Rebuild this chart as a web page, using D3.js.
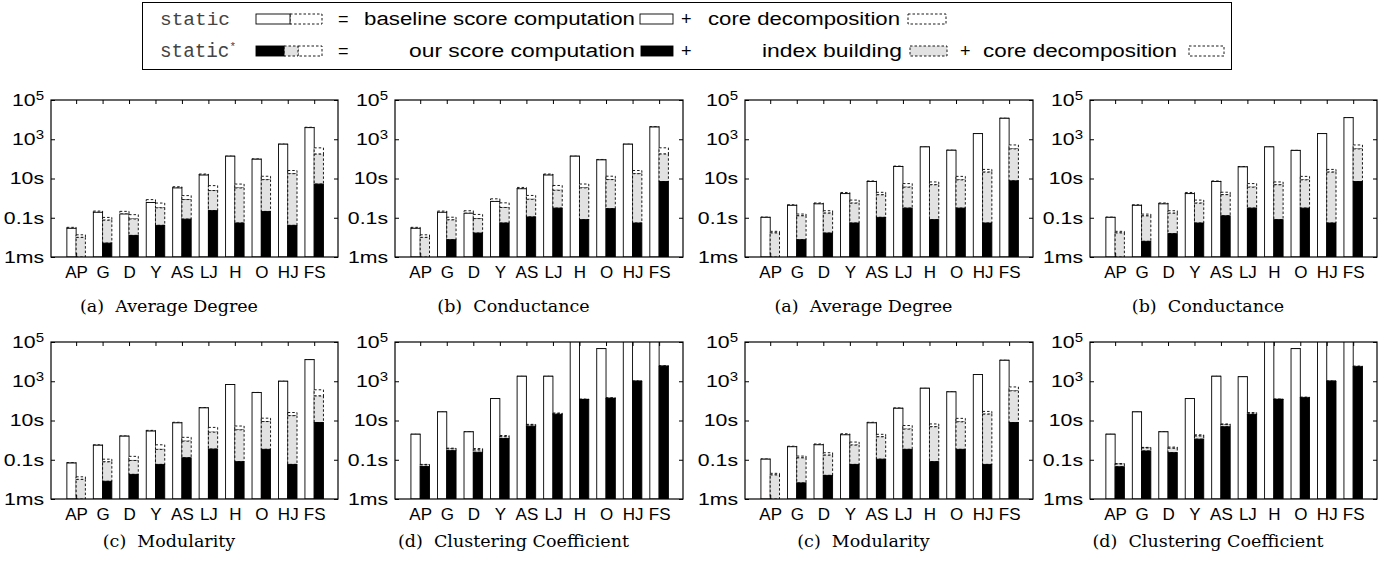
<!DOCTYPE html>
<html><head><meta charset="utf-8">
<script src="https://cdn.jsdelivr.net/npm/d3@7"></script>
<style>body{margin:0;background:#fff} svg{display:block}</style>
</head><body>
<svg id="chart" width="1397" height="561"></svg>
<script>
// ---------- data ----------
const categories = ["AP","G","D","Y","AS","LJ","H","O","HJ","FS"];
const yTickValues = [1e-3, 1e-1, 1e1, 1e3, 1e5];
const yTickLabels = ["1ms", "0.1s", "10s", "10^3", "10^5"];

// core decomposition time (s), shared by both bars of a dataset
const coreTime = [0.0035, 0.029, 0.057, 0.24, 0.5, 1.9, 1.9, 4.3, 8, 190];
// index building time (s)
const indexTimeLeft  = [0.0095, 0.07, 0.074, 0.28, 0.76, 2.2, 3.25, 8.5, 17.5, 169];
const indexTimeRight = [0.016, 0.118, 0.155, 0.5, 1.37, 3.3, 4.7, 8.2, 21, 315];

// baseline score computation (static) and our score computation (static*)
const avgDegreeBaseL = [0.029, 0.19, 0.155, 0.6, 3.3, 15, 137, 96, 560, 3900];
const avgDegreeOursL = [0.0005, 0.0051, 0.0126, 0.041, 0.085, 0.23, 0.054, 0.21, 0.041, 5.2];
const conductanceBaseL = [0.029, 0.19, 0.17, 0.68, 3.0, 15, 137, 89, 560, 4200];
const conductanceOursL = [0.0005, 0.0076, 0.0166, 0.054, 0.11, 0.31, 0.08, 0.29, 0.054, 7.0];
const modularityBaseL = [0.068, 0.55, 1.59, 2.9, 7.6, 44, 680, 265, 1000, 12600];
const modularityOursL = [0.0005, 0.008, 0.018, 0.058, 0.126, 0.35, 0.08, 0.34, 0.058, 7.9];
const clusteringBaseL = [2.0, 27.5, 2.65, 131, 1800, 1800, 300000, 46000, 300000, 300000];
const clusteringOursL = [0.045, 0.29, 0.24, 1.2, 5.1, 20, 117, 131, 1000, 5800];

const avgDegreeBaseR = [0.105, 0.43, 0.51, 1.7, 7.0, 41, 408, 275, 1940, 11700];
const avgDegreeOursR = [0.0008, 0.0076, 0.0166, 0.054, 0.105, 0.31, 0.08, 0.31, 0.054, 7.6];
const conductanceBaseR = [0.105, 0.43, 0.51, 1.7, 7.0, 39, 408, 270, 1940, 12600];
const conductanceOursR = [0.0008, 0.0063, 0.0154, 0.054, 0.126, 0.31, 0.08, 0.31, 0.054, 7.0];
const modularityBaseR = [0.107, 0.46, 0.58, 1.87, 7.6, 42, 440, 288, 2190, 11700];
const modularityOursR = [0.0008, 0.0066, 0.016, 0.058, 0.107, 0.34, 0.08, 0.34, 0.058, 7.9];
const clusteringBaseR = [2.0, 27.5, 2.65, 131, 1800, 1700, 300000, 46000, 300000, 300000];
const clusteringOursR = [0.044, 0.28, 0.23, 1.12, 4.8, 20, 117, 142, 1000, 5400];

const captions = ["(a)  Average Degree", "(b)  Conductance", "(a)  Average Degree", "(b)  Conductance",
                  "(c)  Modularity", "(d)  Clustering Coefficient", "(c)  Modularity", "(d)  Clustering Coefficient"];

const panels = [
  {base: avgDegreeBaseL, ours: avgDegreeOursL, index: indexTimeLeft},
  {base: conductanceBaseL, ours: conductanceOursL, index: indexTimeLeft},
  {base: avgDegreeBaseR, ours: avgDegreeOursR, index: indexTimeRight},
  {base: conductanceBaseR, ours: conductanceOursR, index: indexTimeRight},
  {base: modularityBaseL, ours: modularityOursL, index: indexTimeLeft},
  {base: clusteringBaseL, ours: clusteringOursL, index: indexTimeLeft},
  {base: modularityBaseR, ours: modularityOursR, index: indexTimeRight},
  {base: clusteringBaseR, ours: clusteringOursR, index: indexTimeRight}
];

// ---------- layout ----------
const svg = d3.select("#chart");
const colLeft = [51, 395, 745, 1090], colRight = [338, 683, 1033, 1377];
const rowTop = [100, 342], rowBottom = [257, 499];
const captionY = [312, 547];
const SANS = "'Liberation Sans', Arial, Helvetica, sans-serif";
const SERIF = "'DejaVu Serif', serif";
const MONO = "'Liberation Mono', 'DejaVu Sans Mono', monospace";
const DASH = "2.5,2";
const GREY = "#e2e2e2";
const YSTRETCH = 1.25;

const styles = {
  base:  {fill: "#fff", dash: null},
  core:  {fill: "#fff", dash: DASH},
  index: {fill: GREY, dash: DASH},
  ours:  {fill: "#000", dash: null}
};

const defs = svg.append("defs");
const bw = 0.35;

panels.forEach((p, k) => {
  const row = Math.floor(k / 4), col = k % 4;
  const L = colLeft[col], R = colRight[col], T = rowTop[row], B = rowBottom[row];
  const x = d3.scaleLinear().domain([-0.95, 9.9]).range([L, R]);
  const y = d3.scaleLog().domain([1e-3, 1e5]).range([B, T]);
  const yv = v => y(Math.max(v, 1e-3));

  defs.append("clipPath").attr("id", "clip" + k)
    .append("rect").attr("x", L).attr("y", T).attr("width", R - L).attr("height", B - T);

  const segs = [];
  categories.forEach((c, i) => {
    const b = p.base[i], cr = coreTime[i], o = p.ours[i], ix = p.index[i];
    segs.push({x0: i - bw, x1: i, v0: b, v1: b + cr, type: "core"});
    segs.push({x0: i - bw, x1: i, v0: 0, v1: b, type: "base"});
    segs.push({x0: i, x1: i + bw, v0: o + ix, v1: o + ix + cr, type: "core"});
    segs.push({x0: i, x1: i + bw, v0: o, v1: o + ix, type: "index"});
    segs.push({x0: i, x1: i + bw, v0: 0, v1: o, type: "ours"});
  });

  const g = svg.append("g");
  g.append("g").attr("clip-path", `url(#clip${k})`)
    .selectAll("rect").data(segs).join("rect")
    .attr("x", d => x(d.x0))
    .attr("width", d => x(d.x1) - x(d.x0))
    .attr("y", d => yv(d.v1))
    .attr("height", d => Math.max(0, yv(d.v0) - yv(d.v1)))
    .attr("fill", d => styles[d.type].fill)
    .attr("stroke", "#000")
    .attr("stroke-width", 0.9)
    .attr("stroke-dasharray", d => styles[d.type].dash);

  const axL = g.append("g").attr("transform", `translate(${L},0)`)
    .call(d3.axisLeft(y).tickValues(yTickValues).tickSizeInner(-4).tickSizeOuter(0).tickPadding(7)
      .tickFormat((d, i) => yTickLabels[i]));
  axL.selectAll("text").each(function(d, i) {
    const t = d3.select(this), lab = yTickLabels[i];
    t.attr("transform", `scale(${YSTRETCH},1)`).attr("x", -7 / YSTRETCH);
    if (lab.includes("^")) {
      const [b, e] = lab.split("^");
      t.text(null);
      t.append("tspan").text(b);
      t.append("tspan").attr("font-size", "12px").attr("dy", "-0.5em").text(e);
    }
  });
  g.append("g").attr("transform", `translate(${R},0)`)
    .call(d3.axisRight(y).tickValues(yTickValues).tickSizeInner(-4).tickSizeOuter(0).tickFormat(() => ""));
  g.append("g").attr("transform", `translate(0,${T})`)
    .call(d3.axisTop(x).tickValues(d3.range(10)).tickSizeInner(-4).tickSizeOuter(0).tickFormat(() => ""));
  g.append("g").attr("transform", `translate(0,${B})`)
    .call(d3.axisBottom(x).tickValues(d3.range(10)).tickSizeInner(-4).tickSizeOuter(0).tickPadding(9)
      .tickFormat(i => categories[i]));
  g.selectAll(".domain").remove();
  g.selectAll(".tick line").attr("stroke", "#000");
  g.selectAll(".tick text").attr("font-family", SANS).attr("font-size", "17px").attr("fill", "#000");

  g.append("rect").attr("x", L).attr("y", T).attr("width", R - L).attr("height", B - T)
    .attr("fill", "none").attr("stroke", "#000").attr("stroke-width", 1.2);

  svg.append("text").attr("x", (L - 51 + R) / 2).attr("y", captionY[row])
    .attr("text-anchor", "middle").attr("font-family", SERIF).attr("font-size", "17.5px")
    .style("white-space", "pre")
    .text(captions[k]);
});

// ---------- legend ----------
const lg = svg.append("g");
lg.append("rect").attr("x", 142.5).attr("y", 2.5).attr("width", 1089).attr("height", 67)
  .attr("fill", "none").attr("stroke", "#000").attr("stroke-width", 1);

function swatch(x0, x1, yTop, type) {
  lg.append("rect").attr("x", x0).attr("y", yTop).attr("width", x1 - x0).attr("height", 10)
    .attr("fill", styles[type].fill).attr("stroke", "#000").attr("stroke-width", 0.9)
    .attr("stroke-dasharray", styles[type].dash);
}
function label(x0, x1, y, txt, font, color) {
  const t = lg.append("text").attr("x", x0).attr("y", y)
    .attr("font-family", font || SANS).attr("font-size", "18px").attr("fill", color || "#000").text(txt);
  if (x1) t.attr("textLength", x1 - x0).attr("lengthAdjust", "spacingAndGlyphs");
  return t;
}
const r1 = 25, r2 = 57, s1 = 14, s2 = 46;
// row 1
label(160, 230, r1, "static", MONO, "#444");
swatch(290, 322, s1, "core"); swatch(256, 290, s1, "base");
label(338, null, r1, "=");
label(364, 635, r1, "baseline score computation");
swatch(640, 673, s1, "base");
label(681, null, r1, "+");
label(708, 900, r1, "core decomposition");
swatch(908, 946, s1, "core");
// row 2
const st = label(160, null, r2, "static", MONO, "#444");
st.attr("font-size", "19.3px");
st.append("tspan").attr("font-size", "11px").attr("dy", "-0.6em").text("*");
swatch(298, 322, s2, "core"); swatch(284, 298, s2, "index"); swatch(256, 284, s2, "ours");
label(338, null, r2, "=");
label(409, 635, r2, "our score computation");
swatch(641, 673, s2, "ours");
label(681, null, r2, "+");
label(762, 902, r2, "index building");
swatch(910, 947, s2, "index");
label(960, null, r2, "+");
label(983, 1177, r2, "core decomposition");
swatch(1189, 1224, s2, "core");
</script>
</body></html>
